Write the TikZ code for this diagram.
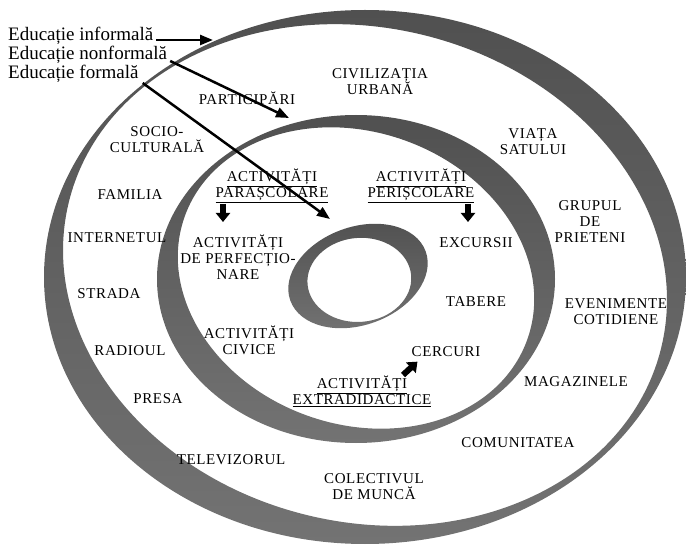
\documentclass[tikz,border=0pt]{standalone}
\usepackage{fontspec}
\setmainfont{Liberation Serif}
\newfontfamily\lblfont[LetterSpace=4]{Liberation Serif}
\usetikzlibrary{arrows.meta}
\definecolor{ringdark}{HTML}{505050}
\definecolor{ringlight}{HTML}{737373}
\tikzset{
  lbl/.style={font=\lblfont\fontsize{15}{16}\selectfont, align=center, inner sep=0pt},
  legend/.style={font=\fontsize{19}{20}\selectfont, anchor=base west, inner sep=0pt},
  legarrow/.style={line width=2.5pt, -{Triangle[length=13pt,width=10pt]}},
  fatarrow/.style={line width=6pt, -{Triangle[length=9pt,width=14pt]}, shorten >=-2pt},
  ring/.style={even odd rule, top color=ringdark, bottom color=ringlight, draw=none}
}
\begin{document}
\begin{tikzpicture}[x=1pt,y=1pt]
\useasboundingbox (0,0) rectangle (686,547);
% outer ring
\shade[ring] (365,270) ellipse [x radius=321, y radius=267]
  [rotate around={-14:(365,272)}] (365,272) ellipse [x radius=305, y radius=247];
% middle ring
\shade[ring] (356,268) ellipse [x radius=199, y radius=164]
  [rotate around={-20:(356,269)}] (356,269) ellipse [x radius=182, y radius=146];
% inner ring
\shade[ring] [rotate around={20:(358,271)}] (358,271) ellipse [x radius=72, y radius=49]
  [rotate around={-15:(358,271)}] (359,267) ellipse [x radius=52, y radius=42];

% legend
\node[legend] (inf) at (8,506) {Educație informală};
\node[legend] (nonf) at (8,487) {Educație nonformală};
\node[legend] (form) at (8,468) {Educație formală};
\coordinate (infend) at (213,507);
\coordinate (nonfend) at (289,429);
\coordinate (formend) at (330,328);
\draw[legarrow] ([xshift=3pt]inf.base east |- infend) -- (infend);
\draw[legarrow] ([xshift=3pt,yshift=-1pt]nonf.base east) -- (nonfend);
\draw[legarrow] ([xshift=4pt,yshift=-4pt]form.base east) -- (formend);

% outer labels
\node[lbl] (civ) at (380,465) {CIVILIZAȚIA\\URBANĂ};
\node[lbl] (part) at (247,449) {PARTICIPĂRI};
\node[lbl] (soc) at (157,407) {SOCIO-\\CULTURALĂ};
\node[lbl] (fam) at (130,352) {FAMILIA};
\node[lbl] (int) at (117,309) {INTERNETUL};
\node[lbl] (str) at (109,253) {STRADA};
\node[lbl] (rad) at (130,196) {RADIOUL};
\node[lbl] (pre) at (158,148) {PRESA};
\node[lbl] (tv) at (231,87) {TELEVIZORUL};
\node[lbl] (col) at (374,60) {COLECTIVUL\\DE MUNCĂ};
\node[lbl] (com) at (518,104) {COMUNITATEA};
\node[lbl] (mag) at (576,165) {MAGAZINELE};
\node[lbl] (eve) at (616,235) {EVENIMENTE\\COTIDIENE};
\node[lbl] (gru) at (590,325) {GRUPUL\\DE\\PRIETENI};
\node[lbl] (via) at (533,405) {VIAȚA\\SATULUI};

% middle labels
\node[lbl] (para) at (272,361) {\underline{ACTIVITĂȚI}\\\underline{PARAȘCOLARE}};
\node[lbl] (peri) at (421,361) {\underline{ACTIVITĂȚI}\\\underline{PERIȘCOLARE}};
\node[lbl] (perf) at (238,290) {ACTIVITĂȚI\\DE PERFECȚIO-\\NARE};
\node[lbl] (civi) at (249,207) {ACTIVITĂȚI\\CIVICE};
\node[lbl] (extra) at (362,156) {\underline{ACTIVITĂȚI}\\\underline{EXTRADIDACTICE}};
\node[lbl] (exc) at (476,304) {EXCURSII};
\node[lbl] (tab) at (476,245) {TABERE};
\node[lbl] (cer) at (446,195) {CERCURI};

% fat arrows
\coordinate (pa1) at (223,343);
\coordinate (pa2) at (223,327);
\coordinate (pe1) at (468,343);
\coordinate (pe2) at (468,327);
\coordinate (ce1) at (403,172);
\coordinate (ce2) at (416,184);
\draw[fatarrow] (pa1) -- (pa2);
\draw[fatarrow] (pe1) -- (pe2);
\draw[fatarrow] (ce1) -- (ce2);
\end{tikzpicture}
\end{document}
